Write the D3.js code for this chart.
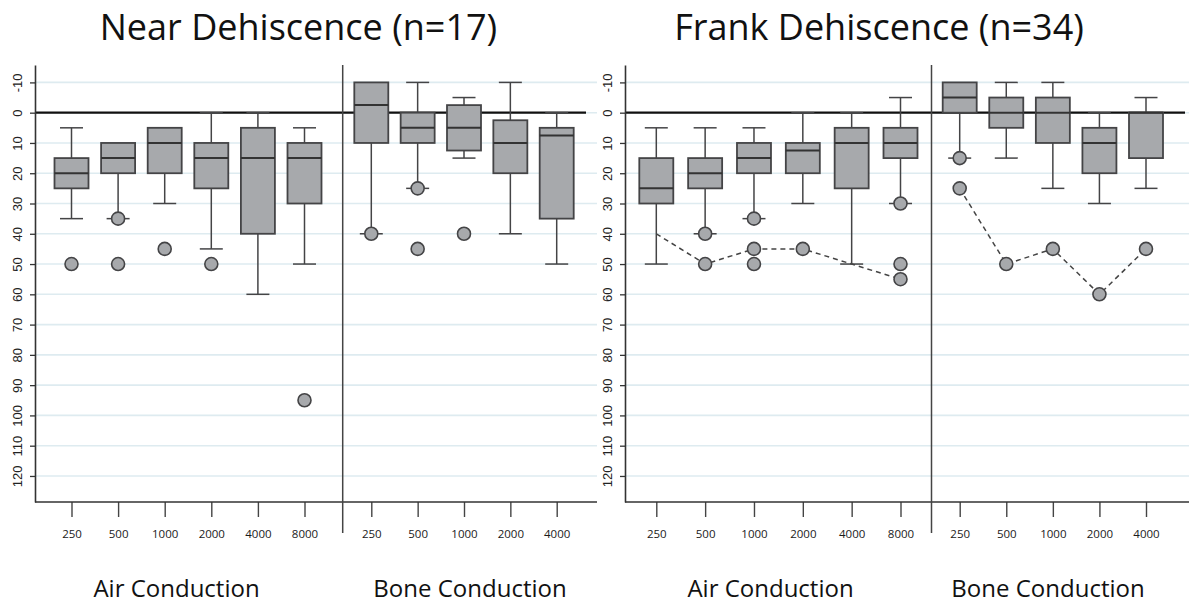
<!DOCTYPE html>
<html><head><meta charset="utf-8">
<script src="https://cdn.jsdelivr.net/npm/d3@7"></script>
<style>body{margin:0;background:#fff} svg{display:block}</style>
</head><body><svg id="c" width="1189" height="607"></svg>
<script>
// ---- data ----
const airFreqs = ["250", "500", "1000", "2000", "4000", "8000"];
const boneFreqs = ["250", "500", "1000", "2000", "4000"];
const yTicks = [-10, 0, 10, 20, 30, 40, 50, 60, 70, 80, 90, 100, 110, 120];
const panelTitles = ["Near Dehiscence (n=17)", "Frank Dehiscence (n=34)"];
const groupLabels = ["Air Conduction", "Bone Conduction"];

// [whisker top, q1, median, q3, whisker bottom] in dB
const nearAirStats = [[5,15,20,25,35],[10,10,15,20,35],[5,5,10,20,30],[0,10,15,25,45],[0,5,15,40,60],[5,10,15,30,50]];
const nearAirOutliers = [[50],[35,50],[45],[50],[],[95]];
const nearBoneStats = [[-10,-10,-2.5,10,40],[-10,0,5,10,25],[-5,-2.5,5,12.5,15],[-10,2.5,10,20,40],[0,5,7.5,35,50]];
const nearBoneOutliers = [[40],[25,45],[40],[],[]];

const frankAirStats = [[5,15,25,30,50],[5,15,20,25,40],[5,10,15,20,35],[0,10,12.5,20,30],[0,5,10,25,50],[-5,5,10,15,30]];
const frankAirOutliers = [[],[40,50],[35,45,50],[45],[],[30,50,55]];
const frankAirCase = [40,50,45,45,50,55];
const frankBoneStats = [[-10,-10,-5,0,15],[-10,-5,0,5,15],[-10,-5,0,10,25],[0,5,10,20,30],[-5,0,0,15,25]];
const frankBoneOutliers = [[15,25],[50],[45],[60],[45]];
const frankBoneCase = [25,50,45,60,45];

// ---- layout ----
const layouts = [
  {axisX:35, air:[71.5,304.5], div:342.7, bone:[371.3,556.7], zeroEnd:586, end:597, titleX:298.5, airLabelX:176.5, boneLabelX:470},
  {axisX:625, air:[656.3,900.5], div:931.5, bone:[959.7,1146], zeroEnd:1185, end:1189, titleX:879, airLabelX:770.5, boneLabelX:1048}
];
const panels = [
  {title:panelTitles[0], airStats:nearAirStats, airOut:nearAirOutliers, boneStats:nearBoneStats, boneOut:nearBoneOutliers, airCase:null, boneCase:null},
  {title:panelTitles[1], airStats:frankAirStats, airOut:frankAirOutliers, boneStats:frankBoneStats, boneOut:frankBoneOutliers, airCase:frankAirCase, boneCase:frankBoneCase}
];

const FONT = "'Open Sans','Noto Sans',sans-serif";
const AXFONT = "'Liberation Sans',Arial,sans-serif";
const FILL = "#a7a9ac", STROKE = "#444446";
const svg = d3.select("#c");
const y = d3.scaleLinear().domain([-15.75, 128.6]).range([65, 502]);
const boxW = 34, capW = 23, r = 6.5;

panels.forEach((p, pi) => {
  const L = layouts[pi];
  const g = svg.append("g");
  const xA = d3.scalePoint().domain(airFreqs).range(L.air);
  const xB = d3.scalePoint().domain(boneFreqs).range(L.bone);

  // gridlines
  g.append("g").selectAll("line").data(yTicks).join("line")
    .attr("x1", L.axisX).attr("x2", L.end)
    .attr("y1", d => y(d)).attr("y2", d => y(d))
    .attr("stroke", "#deebf0").attr("stroke-width", 1.6);

  // zero line
  g.append("line").attr("x1", L.axisX).attr("x2", L.zeroEnd)
    .attr("y1", y(0)).attr("y2", y(0)).attr("stroke", "#111").attr("stroke-width", 2.2);

  // y axis
  const ya = g.append("g").attr("transform", `translate(${L.axisX},0)`)
    .call(d3.axisLeft(y).tickValues(yTicks).tickSize(5).tickSizeOuter(0).tickFormat(d => String(d)));
  ya.select(".domain").attr("stroke", "#333").attr("stroke-width", 1.6);
  ya.selectAll(".tick line").attr("stroke", "#333").attr("stroke-width", 1.3);
  ya.selectAll(".tick text")
    .attr("x", 0).attr("dy", "0.36em").attr("text-anchor", "middle")
    .attr("transform", "translate(-18,0) rotate(-90)")
    .attr("font-family", AXFONT).attr("font-size", 13).attr("fill", "#222");

  // x axes
  [xA, xB].forEach(sc => {
    const xa = g.append("g").attr("transform", "translate(0,502)")
      .call(d3.axisBottom(sc).tickSize(15).tickPadding(13));
    xa.select(".domain").remove();
    xa.selectAll(".tick line").attr("stroke", "#444").attr("stroke-width", 1.4);
    xa.selectAll(".tick text").attr("font-family", FONT).attr("font-size", 11.5).attr("fill", "#1a1a1a");
  });
  g.append("line").attr("x1", L.axisX).attr("x2", L.end)
    .attr("y1", 502).attr("y2", 502).attr("stroke", "#333").attr("stroke-width", 1.6);

  // divider
  g.append("line").attr("x1", L.div).attr("x2", L.div).attr("y1", 65).attr("y2", 533)
    .attr("stroke", "#444").attr("stroke-width", 1.5);

  // boxes
  function drawBoxes(stats, outs, cats, sc, caseVals) {
    const bg = g.append("g");
    stats.forEach((s, i) => {
      const cx = sc(cats[i]);
      const [lo, q1, med, q3, hi] = s;
      const wg = bg.append("g").attr("stroke", STROKE).attr("stroke-width", 1.5);
      if (lo < q1) {
        wg.append("line").attr("x1", cx).attr("x2", cx).attr("y1", y(lo)).attr("y2", y(q1));
        wg.append("line").attr("x1", cx - capW/2).attr("x2", cx + capW/2).attr("y1", y(lo)).attr("y2", y(lo));
      }
      if (hi > q3) {
        wg.append("line").attr("x1", cx).attr("x2", cx).attr("y1", y(q3)).attr("y2", y(hi));
        wg.append("line").attr("x1", cx - capW/2).attr("x2", cx + capW/2).attr("y1", y(hi)).attr("y2", y(hi));
      }
      bg.append("rect").attr("x", cx - boxW/2).attr("width", boxW)
        .attr("y", y(q1)).attr("height", y(q3) - y(q1))
        .attr("fill", FILL).attr("stroke", STROKE).attr("stroke-width", 1.8);
      bg.append("line").attr("x1", cx - boxW/2).attr("x2", cx + boxW/2)
        .attr("y1", y(med)).attr("y2", y(med)).attr("stroke", "#333").attr("stroke-width", 2);
    });
    if (caseVals) {
      const line = d3.line().x((d, i) => sc(cats[i])).y(d => y(d));
      bg.append("path").datum(caseVals).attr("d", line).attr("fill", "none")
        .attr("stroke", "#444").attr("stroke-width", 1.5).attr("stroke-dasharray", "5,4");
    }
    outs.forEach((os, i) => {
      os.forEach(v => {
        bg.append("circle").attr("cx", sc(cats[i])).attr("cy", y(v)).attr("r", r)
          .attr("fill", FILL).attr("stroke", STROKE).attr("stroke-width", 1.6);
      });
    });
  }
  drawBoxes(p.airStats, p.airOut, airFreqs, xA, p.airCase);
  drawBoxes(p.boneStats, p.boneOut, boneFreqs, xB, p.boneCase);

  // titles
  g.append("text").attr("x", L.titleX).attr("y", 40).attr("text-anchor", "middle")
    .attr("font-family", FONT).attr("font-size", 36).attr("fill", "#111").text(p.title);
  g.append("text").attr("x", L.airLabelX).attr("y", 597).attr("text-anchor", "middle")
    .attr("font-family", FONT).attr("font-size", 24).attr("fill", "#111").text(groupLabels[0]);
  g.append("text").attr("x", L.boneLabelX).attr("y", 597).attr("text-anchor", "middle")
    .attr("font-family", FONT).attr("font-size", 24).attr("fill", "#111").text(groupLabels[1]);
});
</script></body></html>
